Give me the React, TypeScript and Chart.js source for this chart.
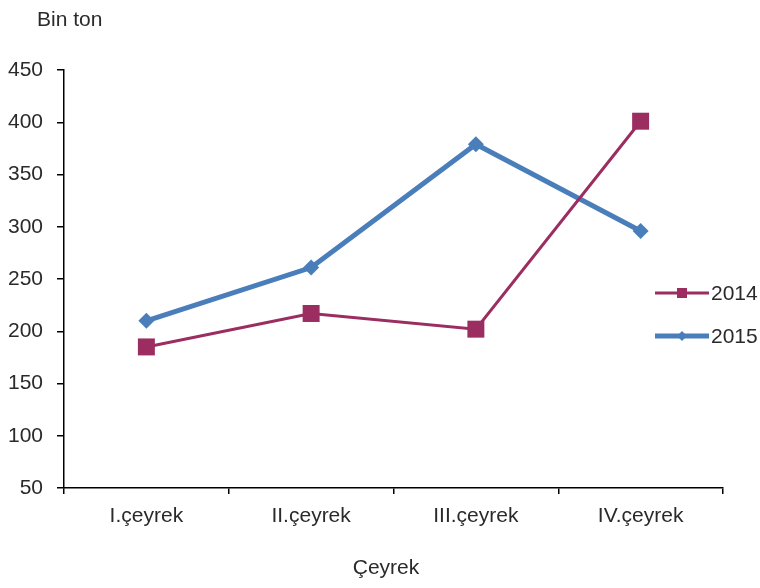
import React, { useEffect, useRef } from "react";
import { Chart, registerables } from "chart.js";

Chart.register(...registerables);

const categories = ["I.çeyrek", "II.çeyrek", "III.çeyrek", "IV.çeyrek"];
const series2014 = [185, 217, 202, 401];
const series2015 = [210, 261, 379, 296];
const yTicks = [50, 100, 150, 200, 250, 300, 350, 400, 450];
const yUnit = "Bin ton";
const xTitle = "Çeyrek";

const FONT = "'Liberation Sans', Arial, sans-serif";
const FS = 21;
const TEXT = "#2a2a2a";
const C2014 = "#9B2D60";
const C2015 = "#4A7EBB";

const overlayPlugin = {
  id: "overlay",
  afterDraw(chart: any) {
    const ctx = chart.ctx;
    ctx.save();
    ctx.fillStyle = TEXT;
    ctx.font = `${FS}px ${FONT}`;
    ctx.textBaseline = "middle";
    ctx.textAlign = "left";
    ctx.fillText(yUnit, 37, 20);
    ctx.textAlign = "center";
    ctx.fillText(xTitle, 386, 568);
    ctx.textAlign = "left";
    // legend
    const items = chart.data.datasets;
    const ys = [293, 336];
    items.forEach((ds: any, i: number) => {
      const y = ys[i];
      ctx.strokeStyle = ds.borderColor;
      ctx.lineWidth = ds.borderWidth;
      ctx.beginPath();
      ctx.moveTo(655, y);
      ctx.lineTo(709, y);
      ctx.stroke();
      ctx.fillStyle = ds.pointBackgroundColor;
      if (ds.pointStyle === "rect") {
        ctx.fillRect(677, y - 5, 10, 10);
      } else {
        ctx.beginPath();
        ctx.moveTo(682, y - 5);
        ctx.lineTo(687, y);
        ctx.lineTo(682, y + 5);
        ctx.lineTo(677, y);
        ctx.closePath();
        ctx.fill();
      }
      ctx.fillStyle = TEXT;
      ctx.fillText(ds.label, 711, y + 1);
    });
    ctx.restore();
  },
};

export default function App() {
  const ref = useRef<HTMLCanvasElement | null>(null);
  useEffect(() => {
    if (!ref.current) return;
    const chart = new Chart(ref.current, {
      type: "line",
      data: {
        labels: categories,
        datasets: [
          {
            label: "2014",
            data: series2014,
            borderColor: C2014,
            backgroundColor: C2014,
            pointBackgroundColor: C2014,
            pointBorderColor: C2014,
            borderWidth: 3,
            pointStyle: "rect",
            pointRadius: 12,
            pointBorderWidth: 0,
            tension: 0,
          },
          {
            label: "2015",
            data: series2015,
            borderColor: C2015,
            backgroundColor: C2015,
            pointBackgroundColor: C2015,
            pointBorderColor: C2015,
            borderWidth: 5,
            pointStyle: "rectRot",
            pointRadius: 8,
            pointBorderWidth: 0,
            tension: 0,
          },
        ],
      },
      options: {
        animation: false,
        responsive: false,
        maintainAspectRatio: false,
        layout: { padding: { left: 0, right: 37, top: 70, bottom: 0 } },
        plugins: {
          legend: { display: false },
          tooltip: { enabled: false },
          title: { display: false },
        },
        scales: {
          x: {
            type: "category",
            offset: true,
            afterFit(scale: any) {
              scale.height = 100;
            },
            grid: {
              offset: true,
              drawOnChartArea: false,
              drawTicks: true,
              tickLength: 6,
              color: "#000000",
              lineWidth: 1.5,
            },
            border: { display: true, color: "#000000", width: 1.5 },
            ticks: {
              color: TEXT,
              font: { family: FONT, size: FS },
              padding: 10,
              maxRotation: 0,
            },
          },
          y: {
            min: 50,
            max: 450,
            afterFit(scale: any) {
              scale.width = 64;
            },
            afterBuildTicks(scale: any) {
              scale.ticks = yTicks.map((v) => ({ value: v }));
            },
            grid: {
              drawOnChartArea: false,
              drawTicks: true,
              tickLength: 7,
              color: "#000000",
              lineWidth: 1.5,
            },
            border: { display: true, color: "#000000", width: 1.5 },
            ticks: {
              color: TEXT,
              font: { family: FONT, size: FS },
              padding: 14,
            },
          },
        },
      },
      plugins: [overlayPlugin],
    });
    return () => chart.destroy();
  }, []);
  return (
    <div style={{ position: "fixed", left: 0, top: 0, width: 760, height: 588, background: "#fff" }}>
      <canvas ref={ref} width={760} height={588} style={{ width: 760, height: 588 }} />
    </div>
  );
}
